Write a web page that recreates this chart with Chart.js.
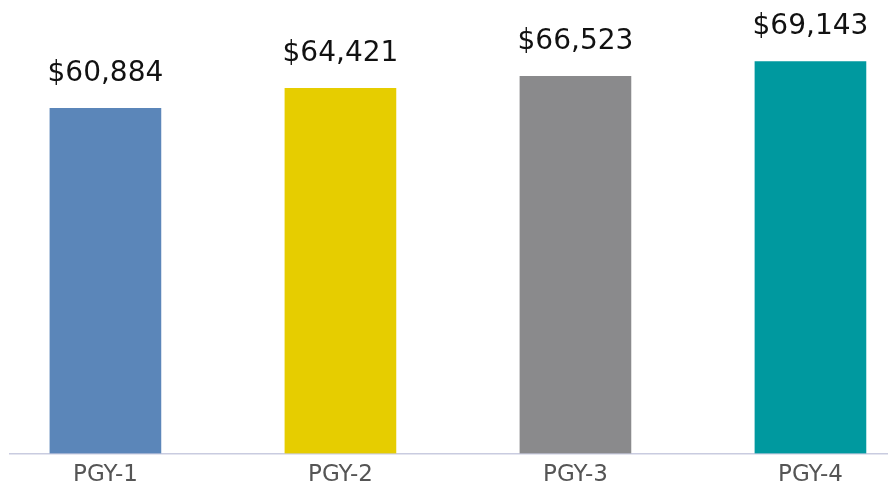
<!DOCTYPE html>
<html>
<head>
<meta charset="utf-8">
<script src="https://cdn.jsdelivr.net/npm/chart.js@4/dist/chart.umd.min.js"></script>
<style>
  html, body { margin: 0; padding: 0; background: #fff; }
  #wrap { width: 888px; height: 495px; }
</style>
</head>
<body>
<div id="wrap"><canvas id="salaryChart"></canvas></div>
<script>
const categories = ['PGY-1', 'PGY-2', 'PGY-3', 'PGY-4'];
const salaries = [60884, 64421, 66523, 69143];
const barColors = ['#5b86b9', '#e6cd00', '#8a8a8c', '#00999f'];

const ctx = document.getElementById('salaryChart').getContext('2d');

// draws the $ amounts above each bar
const valueLabels = {
  id: 'valueLabels',
  afterDatasetsDraw(chart) {
    const c = chart.ctx;
    const meta = chart.getDatasetMeta(0);
    c.save();
    c.font = '28px "DejaVu Sans"';
    c.fillStyle = '#111';
    c.textAlign = 'center';
    c.textBaseline = 'middle';
    meta.data.forEach((bar, i) => {
      c.fillText('$' + salaries[i].toLocaleString('en-US'), bar.x, bar.y - 35);
    });
    c.restore();
  }
};

const salaryChart = new Chart(ctx, {
  type: 'bar',
  data: {
    datasets: [{
      data: salaries.map((v, i) => ({ x: i, y: v })),
      backgroundColor: barColors,
      barThickness: 111,
      borderWidth: 0
    }]
  },
  options: {
    responsive: true,
    maintainAspectRatio: false,
    animation: false,
    layout: {
      padding: { left: 10, right: 0, top: 0, bottom: 6 }
    },
    scales: {
      x: {
        type: 'linear',
        offset: false,
        min: -0.406,
        max: 3.330,
        afterBuildTicks: (axis) => {
          axis.ticks = categories.map((c, i) => ({ value: i }));
        },
        grid: {
          display: false
        },
        border: {
          display: true,
          color: '#c9cce0',
          width: 1.5
        },
        ticks: {
          padding: 0,
          color: '#555',
          font: { family: '"DejaVu Sans"', size: 23 },
          callback: function(value) {
            return categories[value];
          }
        }
      },
      y: {
        display: false,
        beginAtZero: true,
        min: 0,
        max: 80000
      }
    },
    plugins: {
      legend: { display: false },
      tooltip: { enabled: false }
    }
  },
  plugins: [valueLabels]
});
</script>
</body>
</html>
